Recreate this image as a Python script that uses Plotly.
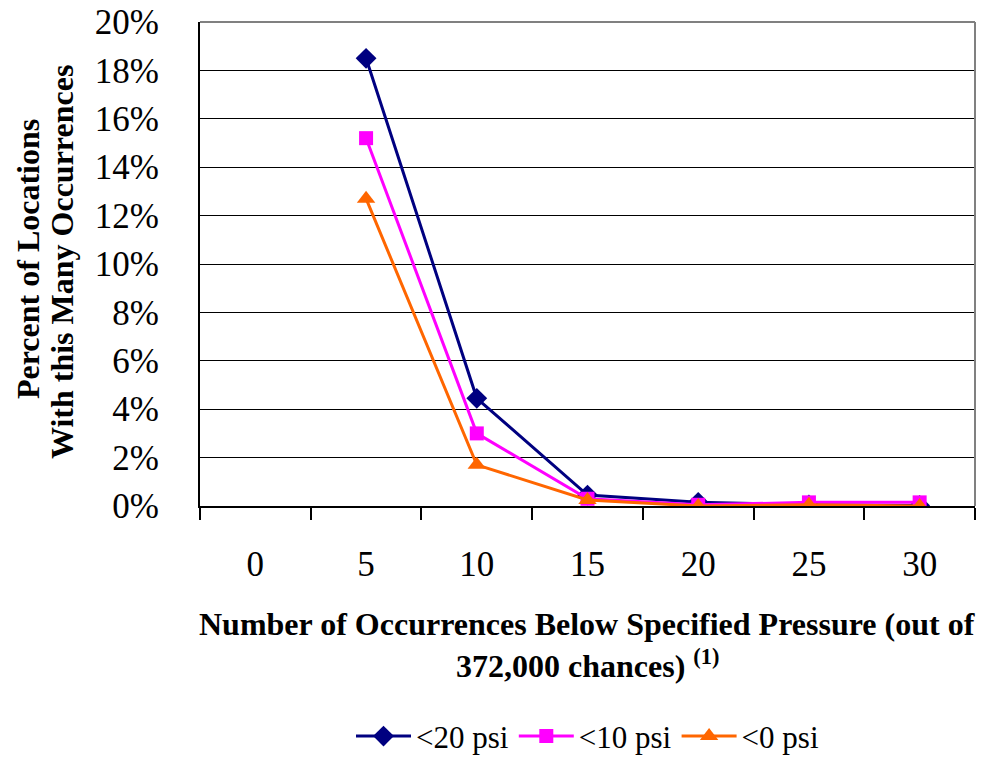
import plotly.graph_objects as go

# Occurrence bins (category axis) and percent of locations per pressure threshold
categories = ["0", "5", "10", "15", "20", "25", "30"]
series_x = ["5", "10", "15", "20", "25", "30"]
psi20 = [18.5, 4.45, 0.45, 0.15, 0.05, 0.02]
psi10 = [15.2, 3.0, 0.3, 0.05, 0.15, 0.15]
psi0 = [12.7, 1.7, 0.25, 0.0, 0.05, 0.0]
y_ticks = [0, 2, 4, 6, 8, 10, 12, 14, 16, 18, 20]
y_labels = [f"{v}%" for v in y_ticks]

serif = "Liberation Serif, Times New Roman, serif"

fig = go.Figure()
fig.add_trace(go.Scatter(x=series_x, y=psi20, name="<20 psi", mode="lines+markers",
                         line=dict(color="#000080", width=3),
                         marker=dict(symbol="diamond", size=16, color="#000080")))
fig.add_trace(go.Scatter(x=series_x, y=psi10, name="<10 psi", mode="lines+markers",
                         line=dict(color="#FF00FF", width=3),
                         marker=dict(symbol="square", size=14, color="#FF00FF")))
fig.add_trace(go.Scatter(x=series_x, y=psi0, name="<0 psi", mode="lines+markers",
                         line=dict(color="#FF6600", width=3),
                         marker=dict(symbol="triangle-up", size=16, color="#FF6600")))

fig.update_layout(
    width=982, height=757,
    margin=dict(l=200, r=7, t=22, b=251, autoexpand=False),
    paper_bgcolor="white", plot_bgcolor="white",
    font=dict(family=serif, color="black"),
    showlegend=True,
    legend=dict(orientation="h", x=0.5, xanchor="center", y=-0.476, yanchor="middle",
                font=dict(size=31, family=serif), itemwidth=55,
                tracegroupgap=0),
    xaxis=dict(type="category", categoryorder="array", categoryarray=categories,
               range=[-0.5, 6.5], tickson="boundaries", ticks="outside", ticklen=12,
               tickcolor="black", tickwidth=1.5, showline=True, linecolor="black",
               linewidth=2, showgrid=False, tickfont=dict(size=35, family=serif),
               ticklabelstandoff=26, zeroline=False, automargin=False),
    yaxis=dict(range=[0, 20], tickvals=y_ticks, ticktext=y_labels, showgrid=True,
               gridcolor="black", gridwidth=1, showline=True, linecolor="black",
               linewidth=2, ticks="", tickfont=dict(size=35, family=serif),
               ticklabelstandoff=32, zeroline=False, automargin=False),
    shapes=[
        dict(type="line", xref="paper", yref="paper", x0=0, x1=1, y0=1, y1=1,
             line=dict(color="#808080", width=2)),
        dict(type="line", xref="paper", yref="paper", x0=1, x1=1, y0=0, y1=1,
             line=dict(color="#808080", width=2)),
    ],
    annotations=[
        dict(text="<b>Percent of Locations</b>",
             xref="paper", yref="paper", x=(28 - 200) / 775, y=(506 - 259) / 484,
             xanchor="center", yanchor="middle", textangle=-90, showarrow=False,
             font=dict(size=32, family=serif)),
        dict(text="<b>With this Many Occurrences</b>",
             xref="paper", yref="paper", x=(62 - 200) / 775, y=(506 - 262) / 484,
             xanchor="center", yanchor="middle", textangle=-90, showarrow=False,
             font=dict(size=32, family=serif)),
        dict(text="<b>Number of Occurrences Below Specified Pressure (out of</b>",
             xref="paper", yref="paper", x=(587 - 200) / 775, y=(506 - 624) / 484,
             xanchor="center", yanchor="middle", showarrow=False,
             font=dict(size=32, family=serif)),
        dict(text="<b>372,000 chances) <sup>(1)</sup></b>",
             xref="paper", yref="paper", x=(587 - 200) / 775, y=(506 - 664) / 484,
             xanchor="center", yanchor="middle", showarrow=False,
             font=dict(size=32, family=serif)),
    ],
)

fig.write_html("out.html")
